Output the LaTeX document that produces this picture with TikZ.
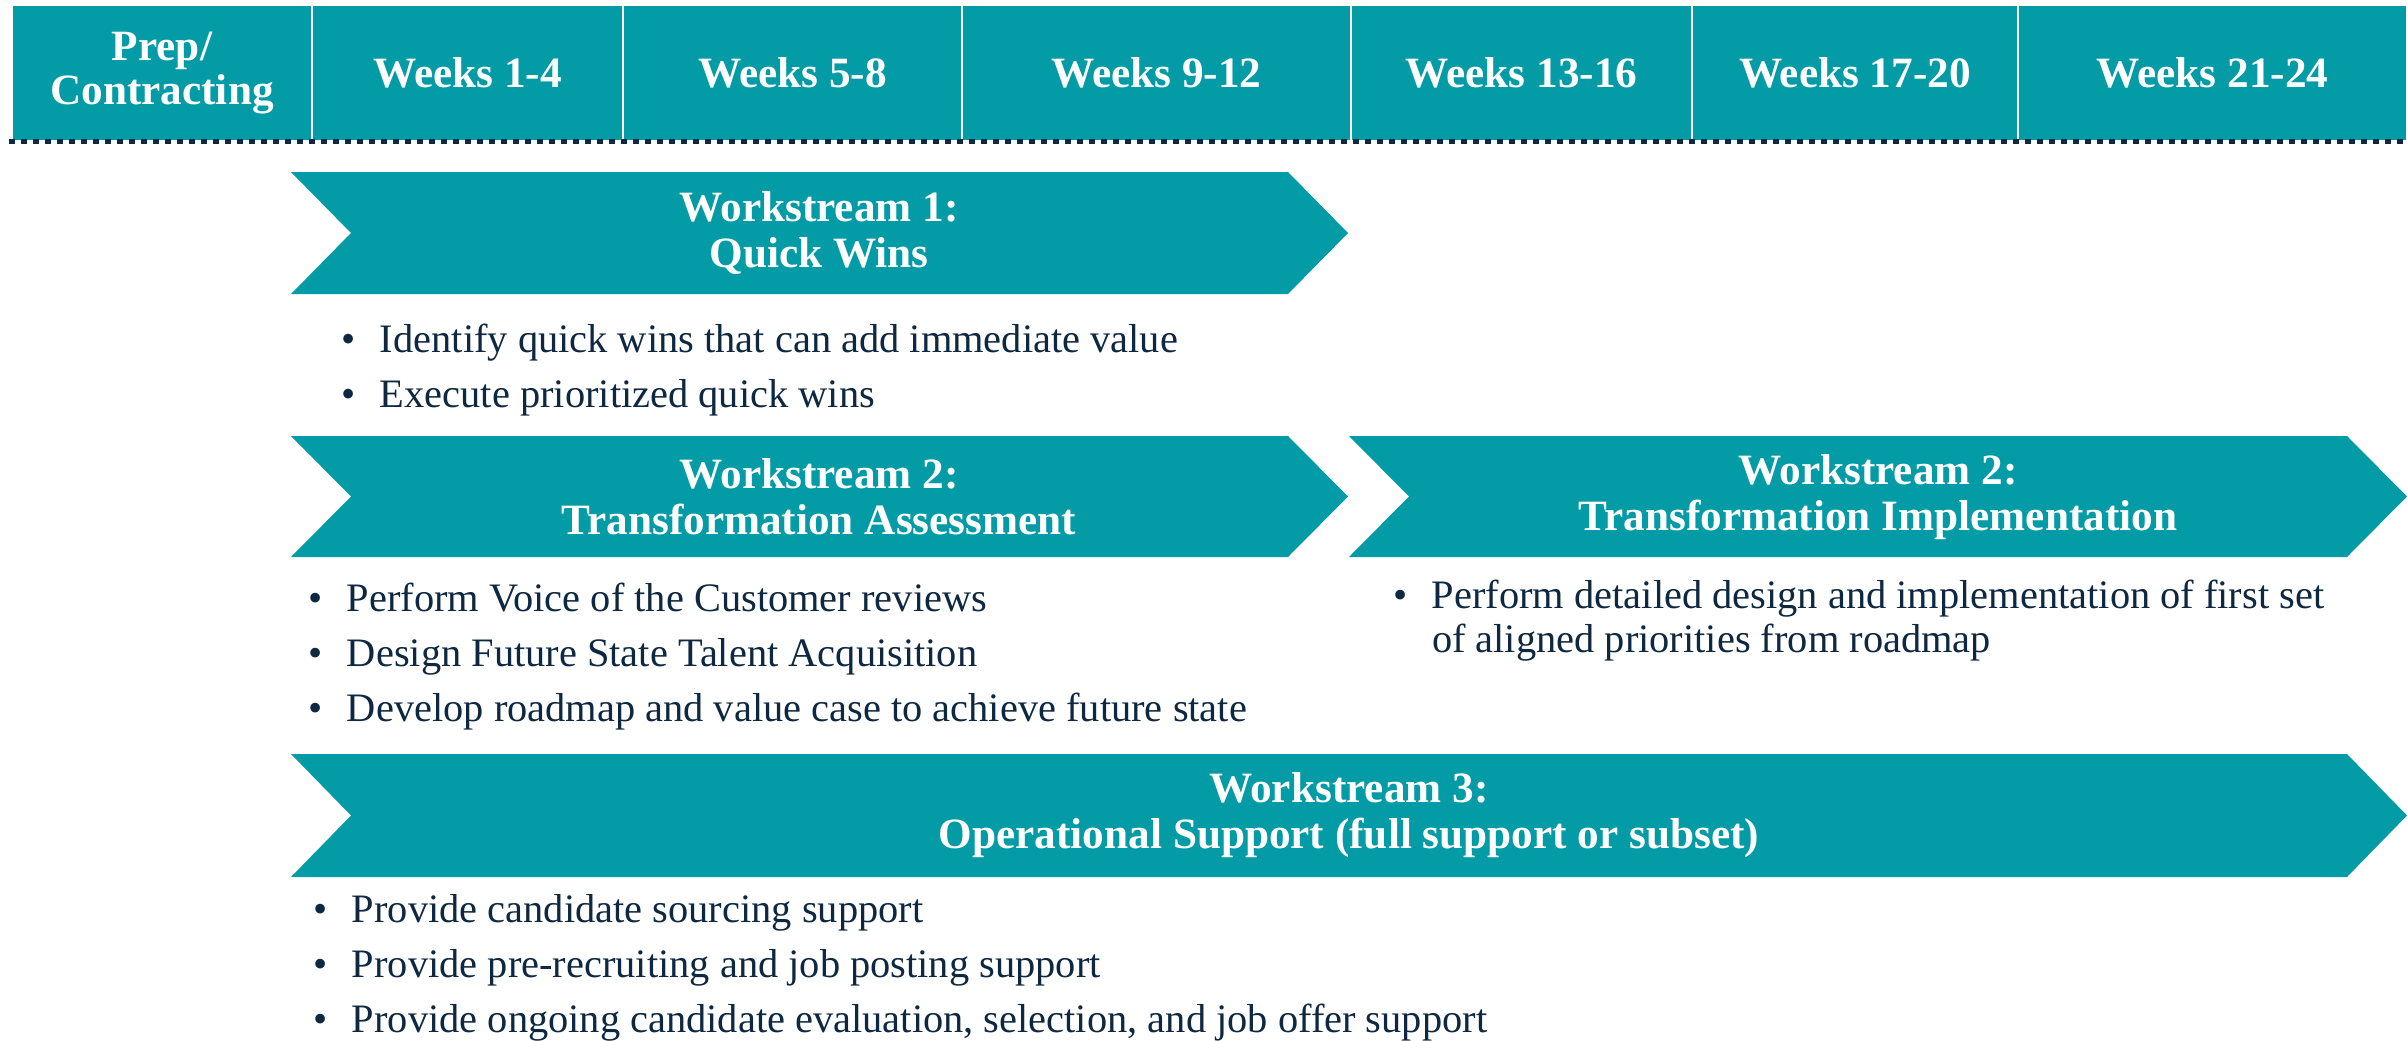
\documentclass[tikz,border=0pt]{standalone}
\usepackage{fontspec}
\setmainfont{Liberation Serif}
\usepackage{tikz}
\usetikzlibrary{positioning}
\definecolor{tealband}{RGB}{2,155,166}
\definecolor{navytext}{RGB}{14,40,65}
\tikzset{
    base/.style={inner sep=0pt, outer sep=0pt},
    cell/.style={base, rectangle, fill=tealband, draw=white, line width=0.25mm, minimum height=13.6mm, text=white, align=center, font=\bfseries\fontsize{12.3}{12.4}\selectfont},
    band/.style={fill=tealband},
    title/.style={base, text=white, align=center, font=\bfseries\fontsize{12.3}{13}\selectfont},
    items/.style={base, anchor=base west, align=left, text=navytext, font=\fontsize{11.5}{12.5}\selectfont},
    dotline/.style={draw=navytext, line width=0.5mm, dash pattern=on 0.6mm off 0.6mm}
}
\newcommand{\itembul}{\makebox[3.9mm][l]{\textbullet}}
\newcommand{\wrapin}{\hspace*{3.9mm}}
\newcommand{\chevron}[4]{\fill[band] (#1,#3) -- ({#2-60},#3) -- (#2,{(#3+#4)/2}) -- ({#2-60},#4) -- (#1,#4) -- ({#1+60},{(#3+#4)/2}) -- cycle;}

\begin{document}
\begin{tikzpicture}[x=0.1mm, y=-0.1mm]
    \useasboundingbox (0,0) rectangle (2407,1041);
    % header row
    \node [cell, minimum width=30mm] (prep) at (162,73) {Prep/\\Contracting};
    \node [cell, minimum width=31.1mm] (wk1) at (467.5,73) {Weeks 1-4};
    \node [cell, minimum width=33.9mm] (wk5) at (792.5,73) {Weeks 5-8};
    \node [cell, minimum width=38.9mm] (wk9) at (1156.5,73) {Weeks 9-12};
    \node [cell, minimum width=34.1mm] (wk13) at (1521.5,73) {Weeks 13-16};
    \node [cell, minimum width=32.6mm] (wk17) at (1855,73) {Weeks 17-20};
    \node [cell, minimum width=38.9mm] (wk21) at (2212.5,73) {Weeks 21-24};
    \draw [dotline] ([xshift=-0.3mm]prep.south west) -- (wk21.south east);

    % workstream 1 (list nodes sit on the baseline of their last line)
    \chevron{291}{1348}{172}{294}
    \node [title] (quick) at (819,233) {Workstream 1:\\Quick Wins};
    \node [items] (quicklist) at (341,407) {\itembul Identify quick wins that can add immediate value\\[3.1pt]
        \itembul Execute prioritized quick wins};

    % workstream 2
    \chevron{291}{1348}{436}{557}
    \node [title] (assess) at (819,497) {Workstream 2:\\Transformation Assessment};
    \node [items] (assesslist) at (308,721) {\itembul Perform Voice of the Customer reviews\\[3.1pt]
        \itembul Design Future State Talent Acquisition\\[3.1pt]
        \itembul Develop roadmap and value case to achieve future state};
    \chevron{1349}{2407}{436}{557}
    \node [title] (implement) at (1878,497) {Workstream 2:\\Transformation Implementation};
    \node [items] (implementlist) at (1393,652) {\itembul Perform detailed design and implementation of first set\\
        \wrapin of aligned priorities from roadmap};

    % workstream 3
    \chevron{291}{2407}{754}{877}
    \node [title] (support) at (1349,815) {Workstream 3:\\Operational Support (full support or subset)};
    \node [items] (supportlist) at (313,1032) {\itembul Provide candidate sourcing support\\[3.1pt]
        \itembul Provide pre-recruiting and job posting support\\[3.1pt]
        \itembul Provide ongoing candidate evaluation, selection, and job offer support};
\end{tikzpicture}
\end{document}
